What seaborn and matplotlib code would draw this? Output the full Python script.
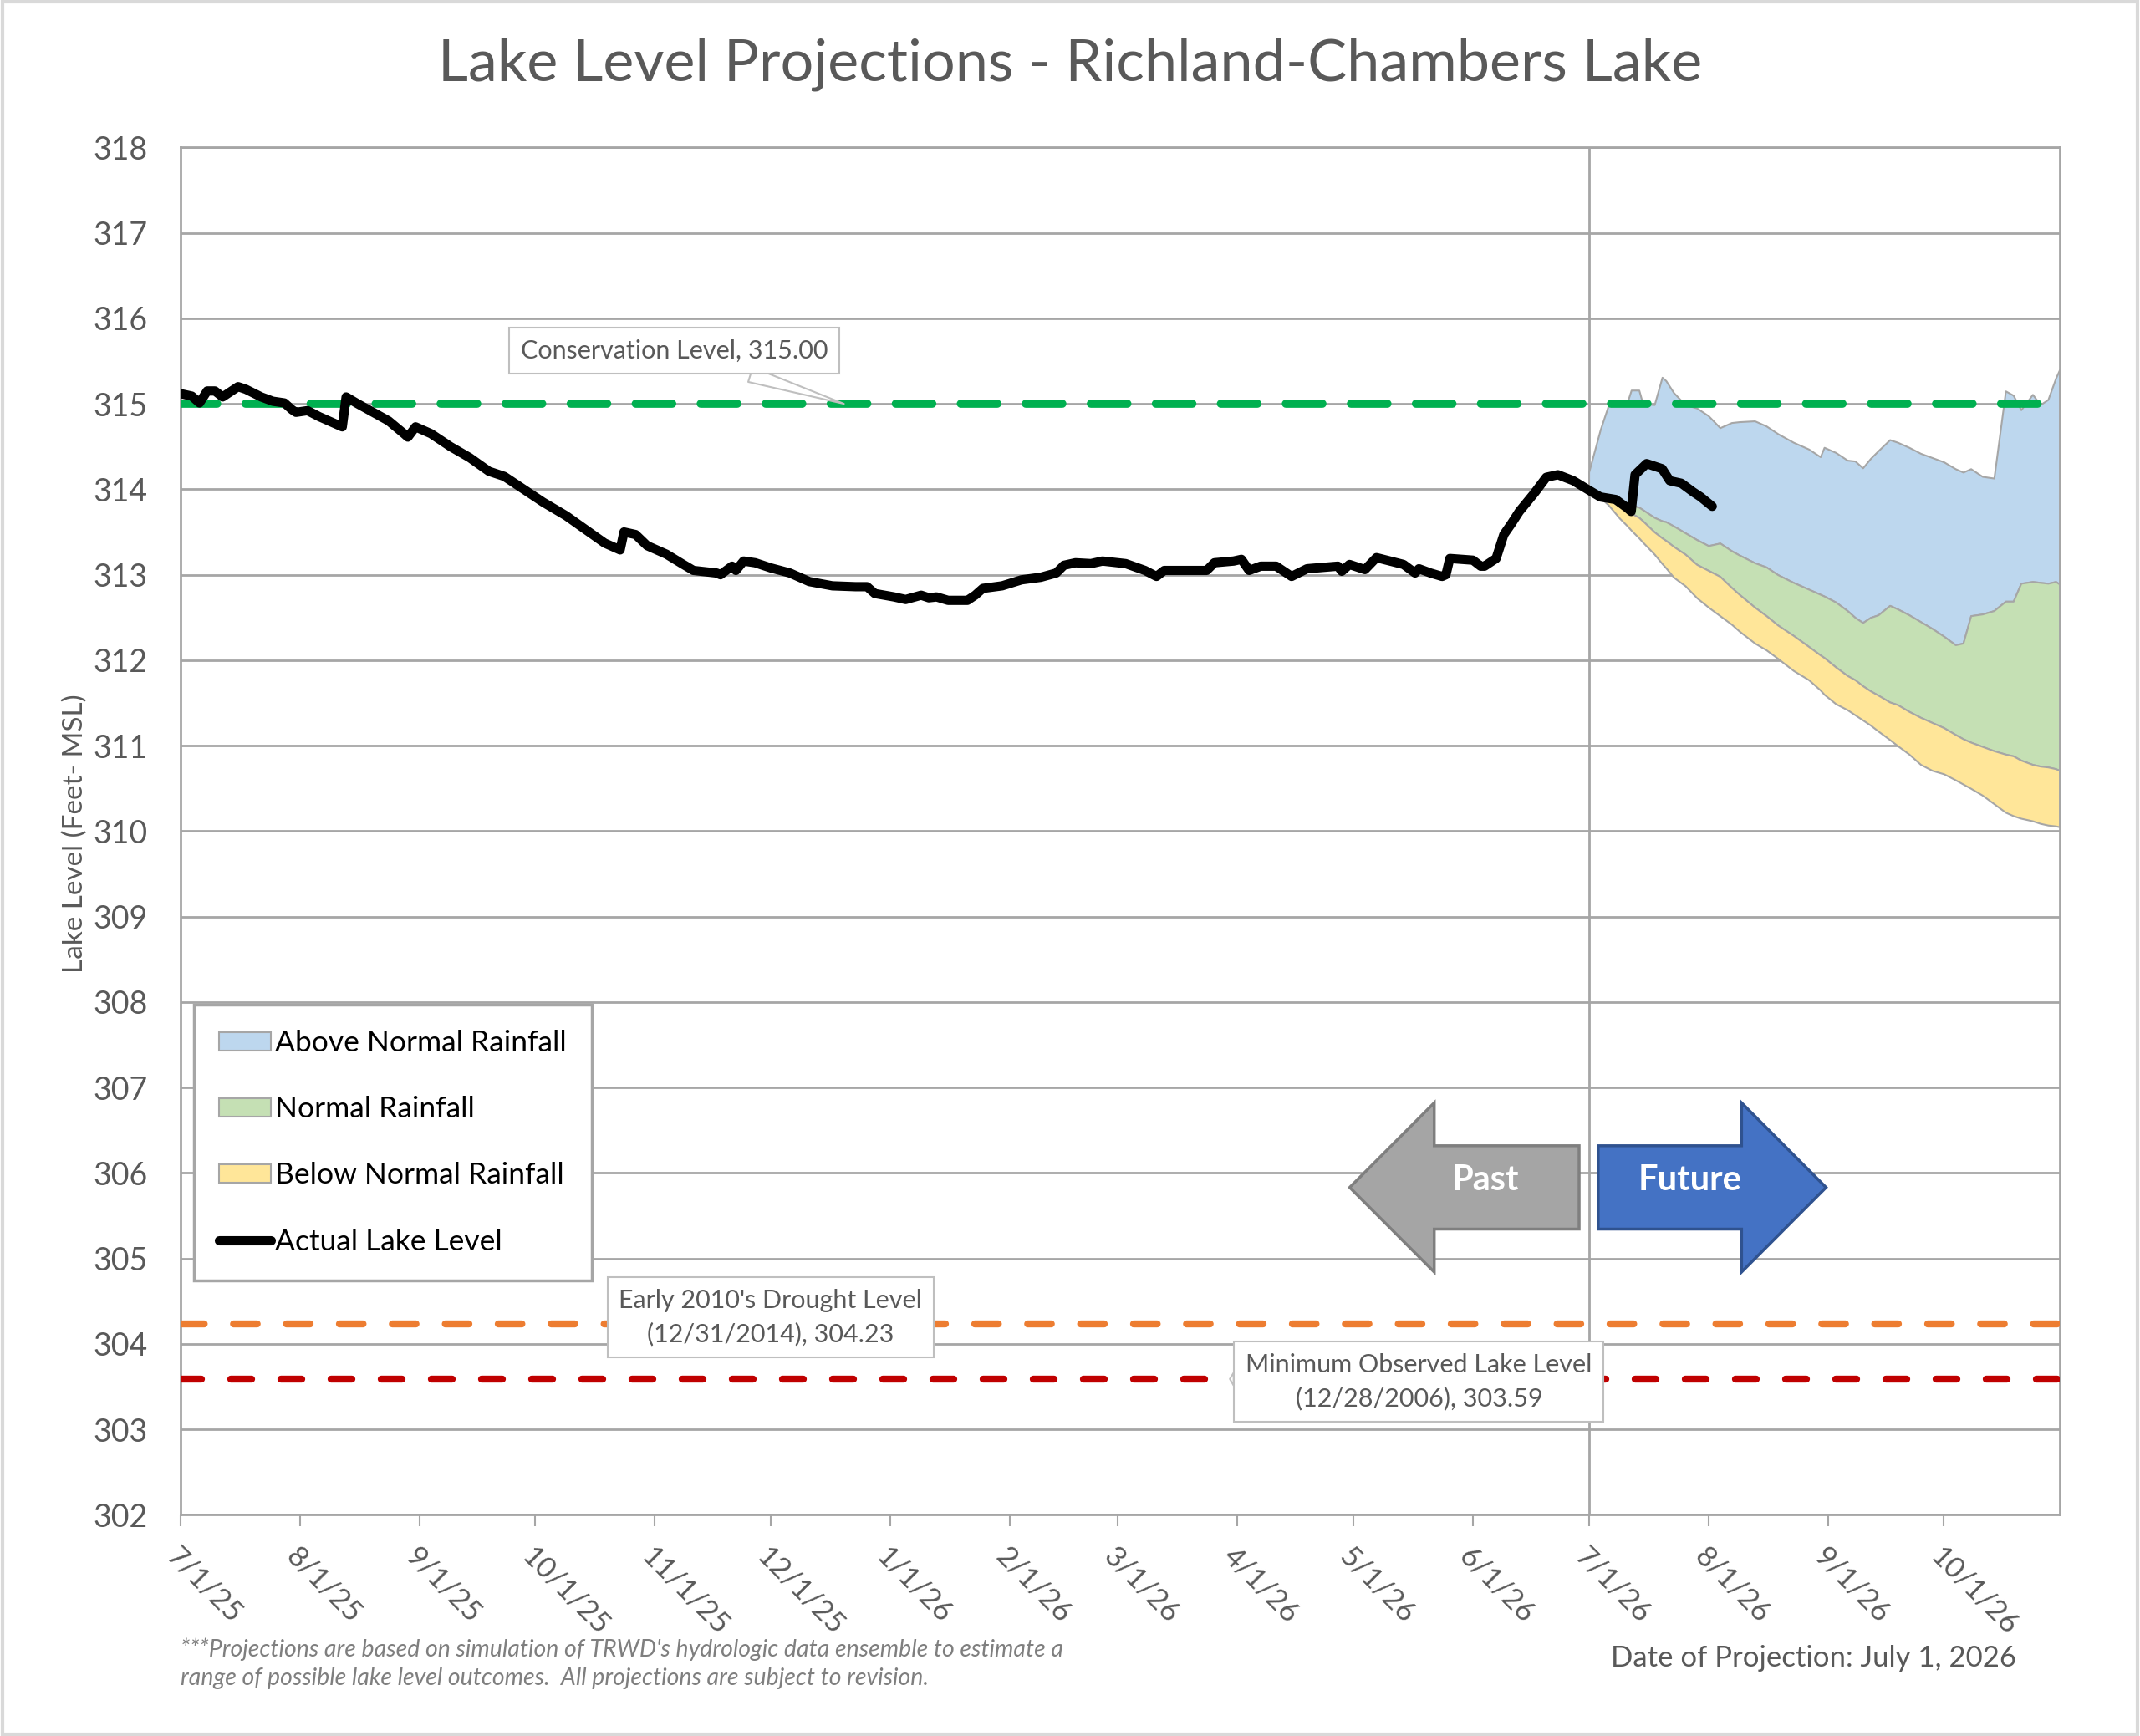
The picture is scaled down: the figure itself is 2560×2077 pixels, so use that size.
import numpy as np
import pandas as pd
import matplotlib
matplotlib.use("Agg")
import matplotlib.pyplot as plt
import matplotlib.dates as mdates
from matplotlib.patches import Patch, FancyArrow, Rectangle
from matplotlib.lines import Line2D
import seaborn as sns

# actual lake level
lake_dates = [
    "2025-07-01", "2025-07-04", "2025-07-06", "2025-07-08", "2025-07-10", "2025-07-12",
    "2025-07-14", "2025-07-16", "2025-07-18", "2025-07-22", "2025-07-25", "2025-07-28",
    "2025-07-30", "2025-07-31", "2025-08-03", "2025-08-06", "2025-08-12", "2025-08-13",
    "2025-08-16", "2025-08-20", "2025-08-24", "2025-08-28", "2025-08-29", "2025-08-31",
    "2025-09-04", "2025-09-09", "2025-09-14", "2025-09-19", "2025-09-23", "2025-09-28",
    "2025-10-03", "2025-10-09", "2025-10-14", "2025-10-19", "2025-10-23", "2025-10-24",
    "2025-10-27", "2025-10-30", "2025-11-04", "2025-11-08", "2025-11-11", "2025-11-17",
    "2025-11-18", "2025-11-21", "2025-11-22", "2025-11-24", "2025-11-27", "2025-12-01",
    "2025-12-06", "2025-12-11", "2025-12-17", "2025-12-23", "2025-12-26", "2025-12-28",
    "2026-01-02", "2026-01-05", "2026-01-09", "2026-01-11", "2026-01-13", "2026-01-16",
    "2026-01-21", "2026-01-23", "2026-01-25", "2026-01-30", "2026-02-04", "2026-02-09",
    "2026-02-13", "2026-02-15", "2026-02-18", "2026-02-22", "2026-02-25", "2026-03-03",
    "2026-03-08", "2026-03-11", "2026-03-13", "2026-03-18", "2026-03-24", "2026-03-26",
    "2026-03-31", "2026-04-02", "2026-04-04", "2026-04-07", "2026-04-11", "2026-04-15",
    "2026-04-19", "2026-04-27", "2026-04-28", "2026-04-30", "2026-05-04", "2026-05-07",
    "2026-05-14", "2026-05-17", "2026-05-18", "2026-05-21", "2026-05-24", "2026-05-25",
    "2026-05-26", "2026-06-01", "2026-06-03", "2026-06-04", "2026-06-07", "2026-06-09",
    "2026-06-11", "2026-06-13", "2026-06-17", "2026-06-20", "2026-06-23", "2026-06-27",
    "2026-07-01", "2026-07-04", "2026-07-08", "2026-07-11", "2026-07-12", "2026-07-13",
    "2026-07-16", "2026-07-20", "2026-07-22", "2026-07-25", "2026-07-28", "2026-07-30",
    "2026-08-02",
]
lake_level = [
    315.12, 315.09, 315.01, 315.15, 315.15, 315.08,
    315.14, 315.20, 315.17, 315.08, 315.03, 315.01,
    314.93, 314.90, 314.92, 314.85, 314.73, 315.08,
    315.00, 314.90, 314.80, 314.65, 314.61, 314.73,
    314.65, 314.50, 314.37, 314.21, 314.15, 314.00,
    313.85, 313.69, 313.53, 313.37, 313.29, 313.50,
    313.47, 313.34, 313.24, 313.13, 313.05, 313.02,
    313.00, 313.10, 313.05, 313.16, 313.14, 313.08,
    313.02, 312.92, 312.87, 312.86, 312.86, 312.78,
    312.74, 312.71, 312.76, 312.73, 312.74, 312.70,
    312.70, 312.76, 312.84, 312.87, 312.94, 312.97,
    313.02, 313.11, 313.14, 313.13, 313.16, 313.13,
    313.05, 312.98, 313.05, 313.05, 313.05, 313.14,
    313.16, 313.18, 313.05, 313.10, 313.10, 312.98,
    313.07, 313.10, 313.04, 313.12, 313.06, 313.20,
    313.12, 313.02, 313.07, 313.02, 312.98, 313.00,
    313.19, 313.17, 313.10, 313.10, 313.19, 313.47,
    313.60, 313.74, 313.96, 314.14, 314.17, 314.10,
    313.99, 313.91, 313.88, 313.78, 313.74, 314.17,
    314.30, 314.24, 314.10, 314.07, 313.97, 313.91,
    313.80,
]

# projection bands, days after the projection date
proj_start = "2026-07-01"
proj_days = [0, 3, 5, 8, 10, 11, 13, 14, 17, 19, 20, 22, 25, 28, 31, 34, 37, 39, 43, 46,
             49, 53, 57, 60, 61, 64, 67, 69, 71, 73, 75, 78, 80, 83, 86, 89, 92, 95, 97, 99,
             102, 105, 108, 110, 112, 115, 117, 119, 121, 122]
above_top = [314.20, 314.70, 314.97, 315.00, 315.02, 315.16, 315.16, 315.00, 314.99, 315.31,
             315.27, 315.13, 314.99, 314.95, 314.86, 314.72, 314.78, 314.79, 314.80, 314.74,
             314.65, 314.55, 314.47, 314.38, 314.49, 314.43, 314.34, 314.33, 314.25, 314.36,
             314.45, 314.58, 314.55, 314.49, 314.42, 314.37, 314.32, 314.24, 314.20, 314.24,
             314.15, 314.13, 315.15, 315.10, 314.93, 315.11, 314.99, 315.05, 315.30, 315.40]
normal_top = [314.00, 313.95, 313.92, 313.87, 313.83, 313.81, 313.79, 313.76, 313.67, 313.63,
              313.62, 313.57, 313.49, 313.41, 313.34, 313.37, 313.28, 313.23, 313.14, 313.09,
              313.00, 312.91, 312.83, 312.77, 312.75, 312.68, 312.58, 312.50, 312.44, 312.50,
              312.53, 312.64, 312.60, 312.53, 312.45, 312.37, 312.28, 312.18, 312.20, 312.52,
              312.54, 312.58, 312.69, 312.69, 312.90, 312.92, 312.91, 312.90, 312.92, 312.89]
below_top = [314.00, 313.93, 313.88, 313.80, 313.75, 313.72, 313.67, 313.63, 313.50, 313.43,
             313.40, 313.33, 313.24, 313.12, 313.05, 312.98, 312.85, 312.77, 312.62, 312.52,
             312.41, 312.29, 312.16, 312.06, 312.03, 311.92, 311.82, 311.77, 311.70, 311.64,
             311.59, 311.51, 311.48, 311.40, 311.33, 311.27, 311.21, 311.13, 311.08, 311.04,
             310.99, 310.94, 310.90, 310.88, 310.83, 310.78, 310.76, 310.75, 310.73, 310.71]
below_bottom = [314.00, 313.90, 313.82, 313.66, 313.57, 313.52, 313.43, 313.38, 313.24, 313.13,
                313.08, 312.97, 312.87, 312.73, 312.62, 312.52, 312.42, 312.34, 312.20, 312.12,
                312.02, 311.88, 311.77, 311.65, 311.60, 311.49, 311.42, 311.36, 311.30, 311.24,
                311.17, 311.07, 311.00, 310.90, 310.78, 310.71, 310.67, 310.60, 310.55, 310.50,
                310.42, 310.32, 310.22, 310.18, 310.15, 310.12, 310.09, 310.07, 310.06, 310.05]

# reference levels
conservation_level = 315.00
drought_level = 304.23
min_level = 303.59

tick_dates = ["2025-07-01", "2025-08-01", "2025-09-01", "2025-10-01", "2025-11-01",
              "2025-12-01", "2026-01-01", "2026-02-01", "2026-03-01", "2026-04-01",
              "2026-05-01", "2026-06-01", "2026-07-01", "2026-08-01", "2026-09-01",
              "2026-10-01"]
tick_labels = ["7/1/25", "8/1/25", "9/1/25", "10/1/25", "11/1/25", "12/1/25", "1/1/26",
               "2/1/26", "3/1/26", "4/1/26", "5/1/26", "6/1/26", "7/1/26", "8/1/26",
               "9/1/26", "10/1/26"]
y_ticks = list(range(302, 319))

sns.set_theme(style="white")
plt.rcParams["font.family"] = ["Lato", "DejaVu Sans"]

grey_txt = "#595959"
grid_c = "#A6A6A6"

df = pd.DataFrame({"date": pd.to_datetime(lake_dates), "level": lake_level})
pdates = pd.to_datetime(proj_start) + pd.to_timedelta(proj_days, unit="D")

fig = plt.figure(figsize=(25.6, 20.77), dpi=100)
ax = fig.add_axes([0.0842, 0.1274, 0.8782, 0.7877])

# projection bands
ax.fill_between(pdates, normal_top, above_top, color="#BDD7EE", edgecolor=grid_c, lw=1.5, zorder=2)
ax.fill_between(pdates, below_top, normal_top, color="#C5E0B4", edgecolor=grid_c, lw=1.5, zorder=2)
ax.fill_between(pdates, below_bottom, below_top, color="#FFE699", edgecolor=grid_c, lw=1.5, zorder=2)

# reference lines
ax.axhline(conservation_level, color="#00B050", lw=7, dashes=(4.5, 3.5), dash_capstyle="round", zorder=3)
ax.axhline(drought_level, color="#ED7D31", lw=6, dashes=(3.4, 4.2), dash_capstyle="round", zorder=3)
ax.axhline(min_level, color="#C00000", lw=6, dashes=(3.0, 4.2), dash_capstyle="round", zorder=3)
ax.axvline(pd.to_datetime(proj_start), color=grid_c, lw=2, zorder=1)

sns.lineplot(data=df, x="date", y="level", ax=ax, color="black", lw=8,
             solid_joinstyle="round", solid_capstyle="round", zorder=4, legend=False)

ax.set_xlim(pd.to_datetime("2025-07-01"), pd.to_datetime("2026-10-31"))
ax.set_ylim(302, 318)
ax.set_yticks(y_ticks)
ax.set_yticklabels([str(v) for v in y_ticks])
ax.set_xticks(pd.to_datetime(tick_dates))
ax.set_xticklabels(tick_labels, rotation=-45, ha="left", va="top", rotation_mode="anchor")
ax.grid(axis="y", color=grid_c, lw=2, zorder=0)
ax.set_axisbelow(True)
for s in ax.spines.values():
    s.set_color(grid_c)
    s.set_linewidth(2)
ax.tick_params(axis="y", length=0, pad=28, labelsize=27, labelcolor=grey_txt)
ax.tick_params(axis="x", length=10, width=1.5, color=grid_c, direction="out", pad=14,
               labelsize=25, labelcolor=grey_txt, bottom=True)
ax.set_xlabel("")
ax.set_ylabel("")

fig.text(0.5, 0.963, "Lake Level Projections - Richland-Chambers Lake", ha="center", va="center",
         fontsize=50.5, color=grey_txt)
fig.text(0.035, 0.52, "Lake Level (Feet- MSL)", rotation=90, ha="center", va="center",
         fontsize=24, color=grey_txt)

# callouts
box = dict(boxstyle="square,pad=0.45", fc="white", ec="#BFBFBF", lw=1.5)
ax.annotate("Conservation Level, 315.00", xy=(pd.to_datetime("2025-12-20"), 315.0),
            xytext=(pd.to_datetime("2025-11-06"), 315.62), ha="center", va="center",
            fontsize=22, color=grey_txt, bbox=box, zorder=6,
            arrowprops=dict(arrowstyle="wedge,tail_width=0.6,shrink_factor=0.5", fc="white",
                            ec="#BFBFBF", lw=1.5, shrinkA=0, shrinkB=0))
ax.annotate("Early 2010's Drought Level\n(12/31/2014), 304.23", xy=(pd.to_datetime("2025-12-01"), 304.31),
            ha="center", va="center", fontsize=22, color=grey_txt, bbox=box, zorder=6,
            linespacing=1.5)
ax.annotate("Minimum Observed Lake Level\n(12/28/2006), 303.59", xy=(pd.to_datetime("2026-03-30"), 303.59),
            xytext=(pd.to_datetime("2026-05-18"), 303.56), ha="center", va="center",
            fontsize=22, color=grey_txt, bbox=box, zorder=6, linespacing=1.5,
            arrowprops=dict(arrowstyle="wedge,tail_width=0.5,shrink_factor=0.5", fc="white",
                            ec="#BFBFBF", lw=1.5, shrinkA=0, shrinkB=0))

# legend
handles = [
    Patch(facecolor="#BDD7EE", edgecolor=grid_c, lw=1.5, label="Above Normal Rainfall"),
    Patch(facecolor="#C5E0B4", edgecolor=grid_c, lw=1.5, label="Normal Rainfall"),
    Patch(facecolor="#FFE699", edgecolor=grid_c, lw=1.5, label="Below Normal Rainfall"),
    Line2D([0], [0], color="black", lw=8, solid_capstyle="round", label="Actual Lake Level"),
]
leg = ax.legend(handles=handles, loc="upper left", bbox_to_anchor=(0.0073, 0.373), fontsize=25.5,
                frameon=True, fancybox=False, edgecolor=grid_c, framealpha=1,
                labelspacing=1.33, handlelength=1.75, handleheight=0.6, handletextpad=0.15,
                borderpad=0.85, borderaxespad=0)
leg.get_frame().set_linewidth(2.5)
for t in leg.get_texts():
    t.set_color("black")

# past / future arrows
past = FancyArrow(0.7379, 0.316, -0.1072, 0, width=0.048, head_width=0.0975, head_length=0.0395,
                  length_includes_head=True, transform=fig.transFigure, fc="#A5A5A5",
                  ec="#7F7F7F", lw=2.5, zorder=7)
future = FancyArrow(0.7468, 0.316, 0.1065, 0, width=0.048, head_width=0.0975, head_length=0.0395,
                    length_includes_head=True, transform=fig.transFigure, fc="#4472C4",
                    ec="#2F528F", lw=2.5, zorder=7)
fig.add_artist(past)
fig.add_artist(future)
fig.text(0.6939, 0.320, "Past", ha="center", va="center", fontsize=30, fontweight="bold", color="white", zorder=8)
fig.text(0.7895, 0.320, "Future", ha="center", va="center", fontsize=30, fontweight="bold", color="white", zorder=8)

# footer
fig.text(0.0842, 0.050, "***Projections are based on simulation of TRWD's hydrologic data ensemble to estimate a",
         ha="left", va="center", fontsize=20.5, style="italic", color="#7F7F7F")
fig.text(0.0842, 0.033, "range of possible lake level outcomes.  All projections are subject to revision.",
         ha="left", va="center", fontsize=20.5, style="italic", color="#7F7F7F")
fig.text(0.942, 0.045, "Date of Projection: July 1, 2026", ha="right", va="center", fontsize=25, color=grey_txt)

fig.add_artist(Rectangle((0.001, 0.001), 0.998, 0.998, transform=fig.transFigure, fill=False,
                         ec="#D9D9D9", lw=3))

fig.savefig("out.png", dpi=100, facecolor="white")
